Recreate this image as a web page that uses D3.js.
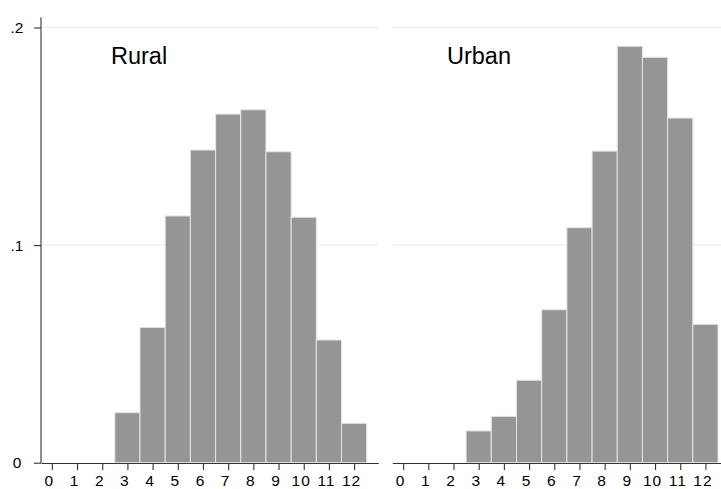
<!DOCTYPE html>
<html>
<head>
<meta charset="utf-8">
<script src="https://cdn.jsdelivr.net/npm/d3@7"></script>
<style>
  html, body { margin: 0; padding: 0; background: #fff; }
  svg { display: block; font-family: "Liberation Sans", Arial, Helvetica, sans-serif; }
</style>
</head>
<body>
<svg id="chart" width="721" height="489"></svg>
<script>
// Histogram bins (integer values 0..12) and density per group
const bins = [0, 1, 2, 3, 4, 5, 6, 7, 8, 9, 10, 11, 12];
const ruralDensity = [0, 0, 0, 0.0230, 0.0622, 0.1134, 0.1437, 0.1602, 0.1622, 0.1429, 0.1128, 0.0564, 0.0181];
const urbanDensity = [0, 0, 0, 0.0146, 0.0213, 0.0379, 0.0703, 0.1080, 0.1432, 0.1914, 0.1863, 0.1584, 0.0636];
const panelNames = ["Rural", "Urban"];
const yTickValues = [0, 0.1, 0.2];
const yTickLabels = ["0", ".1", ".2"];

const FONT = '"Liberation Sans", Arial, Helvetica, sans-serif';
const svg = d3.select("#chart");

const y = d3.scaleLinear().domain([0, 0.2]).range([462.7, 27.5]);

const panels = [
  { name: panelNames[0], values: ruralDensity, left: 41, right: 378.3, titleX: 111 },
  { name: panelNames[1], values: urbanDensity, left: 392.3, right: 729.6, titleX: 447 }
];

// light horizontal gridlines
panels.forEach(p => {
  svg.append("g")
    .selectAll("line")
    .data(yTickValues.filter(v => v > 0))
    .join("line")
    .attr("x1", p.left).attr("x2", Math.min(p.right, 721))
    .attr("y1", d => y(d)).attr("y2", d => y(d))
    .attr("stroke", "#eaeff2").attr("stroke-width", 1.2);
});

panels.forEach(p => {
  const x = d3.scaleLinear().domain([-0.43, 12.96]).range([p.left, p.right]);
  const g = svg.append("g");

  // bars
  g.selectAll("rect")
    .data(bins.map((b, i) => ({ bin: b, value: p.values[i] })).filter(d => d.value > 0))
    .join("rect")
    .attr("x", d => x(d.bin - 0.5))
    .attr("width", d => x(d.bin + 0.5) - x(d.bin - 0.5))
    .attr("y", d => y(d.value))
    .attr("height", d => y(0) - y(d.value))
    .attr("fill", "#959595")
    .attr("stroke", "#e6e6e6")
    .attr("stroke-width", 1);

  // x axis
  const xAxis = d3.axisBottom(x).tickValues(bins).tickSize(7).tickSizeOuter(0).tickFormat(d3.format("d"));
  const ax = g.append("g").attr("transform", `translate(0,${463})`).call(xAxis);
  ax.select(".domain").attr("stroke", "#333").attr("stroke-width", 1.1);
  ax.selectAll(".tick line").attr("stroke", "#333").attr("stroke-width", 1.1);
  ax.selectAll(".tick text")
    .attr("y", 12)
    .attr("dx", -3)
    .style("font-family", FONT)
    .style("font-size", "15.5px")
    .attr("letter-spacing", 1)
    .attr("fill", "#000");

  // panel title
  g.append("text")
    .attr("x", p.titleX).attr("y", 64)
    .attr("font-size", 23.5)
    .attr("fill", "#000")
    .text(p.name);
});

// y axis on the left panel
const yAxis = d3.axisLeft(y).tickValues(yTickValues).tickSize(7).tickSizeOuter(0)
  .tickFormat((d, i) => yTickLabels[i]);
const ay = svg.append("g").attr("transform", "translate(41,0)").call(yAxis);
ay.select(".domain").attr("d", `M0,17.3V463`).attr("stroke", "#333").attr("stroke-width", 1.1);
ay.selectAll(".tick line").attr("stroke", "#333").attr("stroke-width", 1.1);
ay.selectAll(".tick text")
  .attr("x", -24)
  .attr("text-anchor", "middle")
  .style("font-family", FONT)
  .style("font-size", "15.5px")
  .attr("fill", "#000");
</script>
</body>
</html>
